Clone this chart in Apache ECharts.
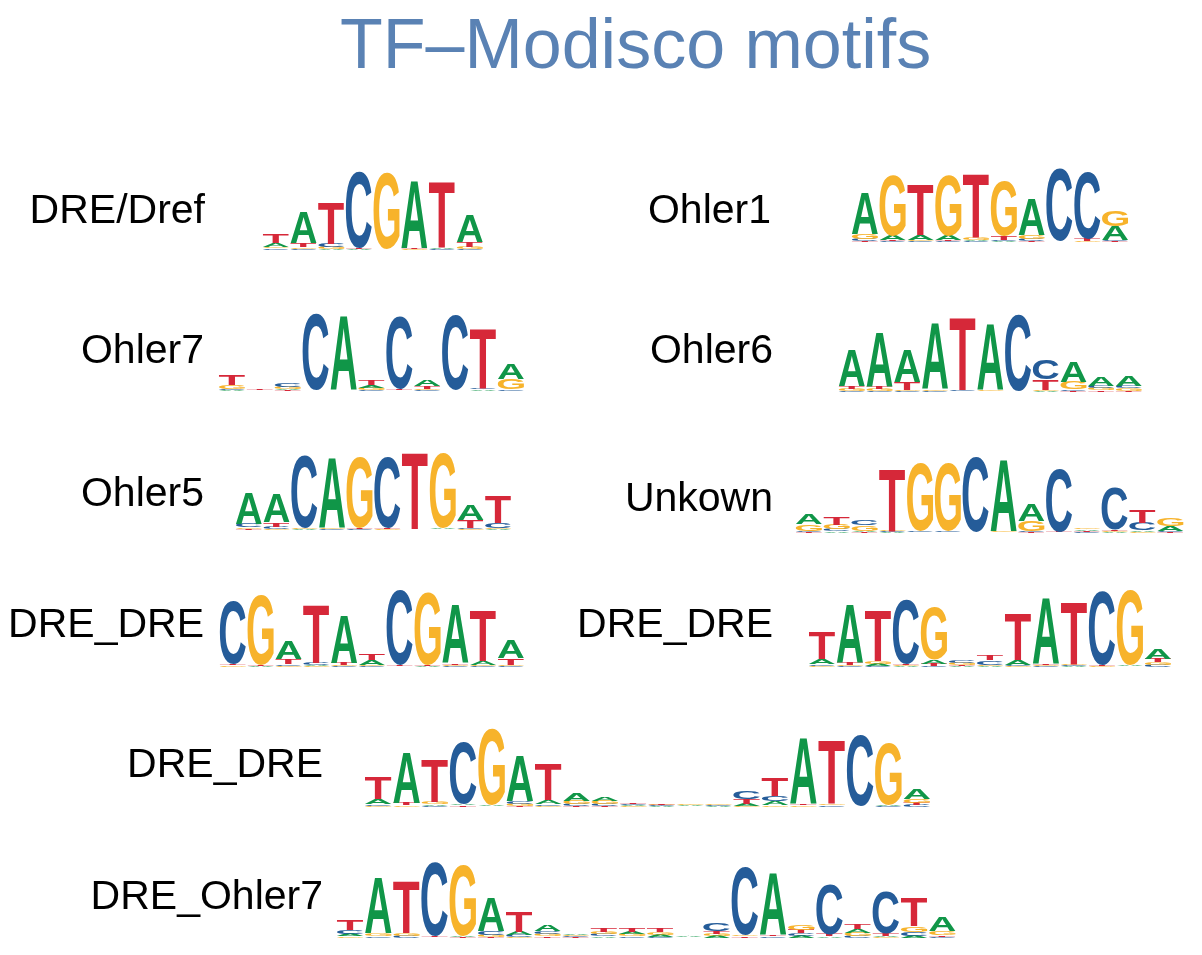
<!DOCTYPE html>
<html><head><meta charset="utf-8">
<script src="https://cdn.jsdelivr.net/npm/echarts@6/dist/echarts.min.js"></script>
<style>html,body{margin:0;padding:0;background:#fff}#c{width:1202px;height:955px}</style>
</head><body><div id="c"></div>
<script>
// ---- data: information content (bits) per position, order [A, C, G, T] ----
const BASES = ['A', 'C', 'G', 'T'];
const motifLabels = ['DRE/Dref', 'Ohler1', 'Ohler7', 'Ohler6', 'Ohler5', 'Unkown', 'DRE_DRE', 'DRE_DRE', 'DRE_DRE', 'DRE_Ohler7'];
const titleText = 'TF\u2013Modisco motifs';

const dreDref = [
  [0.10, 0.04, 0.04, 0.23], [0.78, 0.03, 0.04, 0.10], [0.03, 0.08, 0.05, 1.03], [0.02, 1.92, 0.01, 0.02],
  [0.01, 0.01, 1.90, 0.01], [1.70, 0.01, 0.02, 0.02], [0.03, 0.02, 0.01, 1.65], [0.69, 0.03, 0.05, 0.12]
];
const ohler1 = [
  [1.09, 0.05, 0.13, 0.03], [0.13, 0.02, 1.58, 0.02], [0.13, 0.02, 0.03, 1.32], [0.13, 0.02, 1.58, 0.02],
  [0.03, 0.02, 0.05, 1.66], [0.03, 0.03, 1.45, 0.10], [0.96, 0.05, 0.10, 0.03], [0.01, 1.90, 0.01, 0.01],
  [0.01, 1.76, 0.02, 0.05], [0.37, 0.03, 0.40, 0.02]
];
const ohler7 = [
  [0.03, 0.03, 0.10, 0.25], [0.01, 0.01, 0.01, 0.02], [0.03, 0.10, 0.05, 0.02], [0.01, 1.90, 0.01, 0.01],
  [1.85, 0.01, 0.01, 0.01], [0.07, 0.02, 0.05, 0.14], [0.01, 1.80, 0.01, 0.02], [0.15, 0.03, 0.03, 0.07],
  [0.01, 1.88, 0.01, 0.01], [0.03, 0.04, 0.01, 1.50], [0.38, 0.03, 0.25, 0.01]
];
const ohler6 = [
  [0.90, 0.03, 0.05, 0.06], [1.35, 0.03, 0.05, 0.05], [0.80, 0.02, 0.03, 0.20], [1.65, 0.02, 0.04, 0.01],
  [0.01, 0.02, 0.01, 1.83], [1.65, 0.01, 0.02, 0.01], [0.01, 1.92, 0.01, 0.01], [0.03, 0.50, 0.03, 0.25],
  [0.52, 0.04, 0.18, 0.03], [0.22, 0.07, 0.05, 0.04], [0.25, 0.07, 0.06, 0.03]
];
const ohler5 = [
  [0.77, 0.08, 0.04, 0.03], [0.72, 0.05, 0.03, 0.11], [0.02, 1.80, 0.02, 0.01], [1.74, 0.02, 0.02, 0.01],
  [0.01, 0.02, 1.78, 0.02], [0.01, 1.78, 0.02, 0.03], [0.01, 0.01, 0.01, 1.90], [0.02, 0.01, 1.88, 0.01],
  [0.37, 0.03, 0.02, 0.20], [0.03, 0.12, 0.03, 0.68]
];
const unknown = [
  [0.25, 0.04, 0.17, 0.02], [0.04, 0.05, 0.12, 0.18], [0.04, 0.14, 0.13, 0.02], [0.02, 0.02, 0.02, 1.55],
  [0.01, 0.02, 1.70, 0.01], [0.01, 0.02, 1.70, 0.01], [0.01, 1.88, 0.01, 0.01], [1.80, 0.01, 0.02, 0.01],
  [0.42, 0.03, 0.25, 0.02], [0.01, 1.58, 0.01, 0.02], [0.04, 0.03, 0.04, 0.03], [0.02, 1.04, 0.03, 0.04],
  [0.04, 0.19, 0.03, 0.33], [0.13, 0.03, 0.20, 0.02]
];
const dreDreLeft = [
  [0.01, 1.58, 0.03, 0.03], [0.02, 0.01, 1.73, 0.02], [0.46, 0.04, 0.03, 0.12], [0.03, 0.05, 0.02, 1.46],
  [1.20, 0.02, 0.03, 0.05], [0.12, 0.03, 0.03, 0.15], [0.01, 1.88, 0.01, 0.02], [0.02, 0.01, 1.82, 0.02],
  [1.46, 0.02, 0.03, 0.04], [0.10, 0.03, 0.03, 1.25], [0.46, 0.02, 0.04, 0.17]
];
const dreDreRight = [
  [0.14, 0.04, 0.03, 0.67], [1.46, 0.02, 0.03, 0.06], [0.05, 0.02, 0.07, 1.25], [0.02, 1.62, 0.02, 0.03],
  [0.10, 0.03, 1.33, 0.05], [0.03, 0.06, 0.05, 0.03], [0.03, 0.11, 0.03, 0.13], [0.12, 0.03, 0.02, 1.17],
  [1.64, 0.02, 0.02, 0.03], [0.02, 0.02, 0.04, 1.57], [0.01, 1.83, 0.02, 0.02], [0.02, 0.01, 1.89, 0.01],
  [0.25, 0.05, 0.07, 0.08]
];
const dreDreLong = [
  [0.14, 0.04, 0.03, 0.55], [1.28, 0.01, 0.04, 0.06], [0.04, 0.03, 0.06, 1.06], [0.04, 1.56, 0.01, 0.03],
  [0.03, 0.01, 1.90, 0.01], [1.12, 0.06, 0.05, 0.03], [0.10, 0.04, 0.03, 0.92], [0.18, 0.05, 0.08, 0.03],
  [0.10, 0.05, 0.08, 0.03], [0.03, 0.03, 0.02, 0.04], [0.02, 0.02, 0.02, 0.04], [0.02, 0.01, 0.02, 0.01],
  [0.02, 0.02, 0.03, 0.01], [0.05, 0.18, 0.03, 0.12], [0.10, 0.14, 0.04, 0.45], [1.66, 0.01, 0.03, 0.03],
  [0.01, 0.03, 0.03, 1.60], [0.01, 1.77, 0.01, 0.01], [0.03, 0.02, 1.55, 0.01], [0.25, 0.05, 0.08, 0.06]
];
const dreOhler7 = [
  [0.07, 0.10, 0.04, 0.25], [1.38, 0.04, 0.07, 0.01], [0.01, 0.05, 0.06, 1.30], [0.01, 1.84, 0.01, 0.02],
  [0.03, 0.01, 1.78, 0.02], [0.85, 0.10, 0.05, 0.03], [0.08, 0.05, 0.03, 0.50], [0.16, 0.07, 0.06, 0.04],
  [0.04, 0.03, 0.03, 0.02], [0.04, 0.05, 0.06, 0.09], [0.06, 0.04, 0.05, 0.09], [0.05, 0.03, 0.06, 0.08],
  [0.02, 0.01, 0.01, 0.01], [0.05, 0.20, 0.06, 0.07], [0.01, 1.70, 0.04, 0.03], [1.57, 0.03, 0.01, 0.03],
  [0.05, 0.07, 0.12, 0.09], [0.03, 1.25, 0.01, 0.05], [0.10, 0.05, 0.08, 0.14], [0.03, 1.06, 0.02, 0.05],
  [0.06, 0.10, 0.14, 0.70], [0.36, 0.03, 0.10, 0.04]
];
const motifs = [dreDref, ohler1, ohler7, ohler6, ohler5, unknown, dreDreLeft, dreDreRight, dreDreLong, dreOhler7];

// ---- layout & style (pixels) ----
const FONT = '"Liberation Sans", Arial, Helvetica, sans-serif';
const LETTER_WEIGHT = 'bold';
const BASE_COLORS = ['#109648', '#255C99', '#F7B32B', '#D62839'];
const layout = [
  { lx: 205, ly: 212, left: 262, base: 250, colW: 27.7, h: 80 },
  { lx: 771, ly: 212, left: 851, base: 242, colW: 27.8, h: 76 },
  { lx: 204, ly: 352, left: 218, base: 391, colW: 27.9, h: 80 },
  { lx: 773, ly: 352, left: 838, base: 392, colW: 27.7, h: 80 },
  { lx: 204, ly: 495, left: 235, base: 530, colW: 27.7, h: 80 },
  { lx: 773, ly: 500, left: 795, base: 533, colW: 27.8, h: 80 },
  { lx: 204, ly: 626, left: 219, base: 667, colW: 27.8, h: 80 },
  { lx: 773, ly: 626, left: 808, base: 667, colW: 28.0, h: 80 },
  { lx: 323, ly: 766, left: 364, base: 807, colW: 28.35, h: 80 },
  { lx: 323, ly: 898, left: 336, base: 938, colW: 28.2, h: 80 }
];

// measure the ink box of each letter so it can be stretched to fill its slot
const S = 100;
const mctx = document.createElement('canvas').getContext('2d');
mctx.font = LETTER_WEIGHT + ' ' + S + 'px ' + FONT;
mctx.textAlign = 'center';
mctx.textBaseline = 'middle';
const ink = BASES.map(b => {
  const m = mctx.measureText(b);
  return { l: m.actualBoundingBoxLeft, r: m.actualBoundingBoxRight, a: m.actualBoundingBoxAscent, d: m.actualBoundingBoxDescent };
});

function stackColumns(cols) {
  const out = [];
  cols.forEach((vals, ci) => {
    const order = vals.map((v, bi) => [v, bi]).sort((p, q) => p[0] - q[0]);
    let y = 0;
    order.forEach(([v, bi]) => { out.push([ci, y, y + v, bi]); y += v; });
  });
  return out;
}

function renderLetter(params, api) {
  const col = api.value(0), y0 = api.value(1), y1 = api.value(2), bi = api.value(3);
  const p0 = api.coord([col + 0.03, y0]);
  const p1 = api.coord([col + 0.97, y1]);
  const w = p1[0] - p0[0], h = p0[1] - p1[1];
  if (h <= 0.05) return null;
  const m = ink[bi];
  const sx = w / (m.l + m.r), sy = h / (m.a + m.d);
  return {
    type: 'text', silent: true,
    x: p0[0] + m.l * sx, y: p1[1] + m.a * sy,
    scaleX: sx, scaleY: sy,
    style: { text: BASES[bi], fontSize: S, fontWeight: LETTER_WEIGHT, fontFamily: FONT, fill: BASE_COLORS[bi], align: 'center', verticalAlign: 'middle' }
  };
}

const grids = [], xAxes = [], yAxes = [], series = [], graphics = [];
motifs.forEach((cols, i) => {
  const L = layout[i];
  grids.push({ left: L.left, top: L.base - L.h, width: cols.length * L.colW, height: L.h });
  xAxes.push({ gridIndex: i, type: 'value', min: 0, max: cols.length, show: false });
  yAxes.push({ gridIndex: i, type: 'value', min: 0, max: 2, show: false });
  series.push({ type: 'custom', name: motifLabels[i], xAxisIndex: i, yAxisIndex: i, renderItem: renderLetter, data: stackColumns(cols), animation: false });
  graphics.push({ type: 'text', x: L.lx, y: L.ly, silent: true,
    style: { text: motifLabels[i], fontSize: 41, fontFamily: FONT, fill: '#000', align: 'right', verticalAlign: 'middle' } });
});

const chart = echarts.init(document.getElementById('c'), null, { renderer: 'canvas' });
chart.setOption({
  backgroundColor: '#fff',
  animation: false,
  title: { text: titleText, left: 340, top: 14, padding: 0,
    textStyle: { fontSize: 70, fontWeight: 'normal', color: '#5a82b4', fontFamily: FONT } },
  grid: grids, xAxis: xAxes, yAxis: yAxes, series: series,
  graphic: graphics
});
</script></body></html>
